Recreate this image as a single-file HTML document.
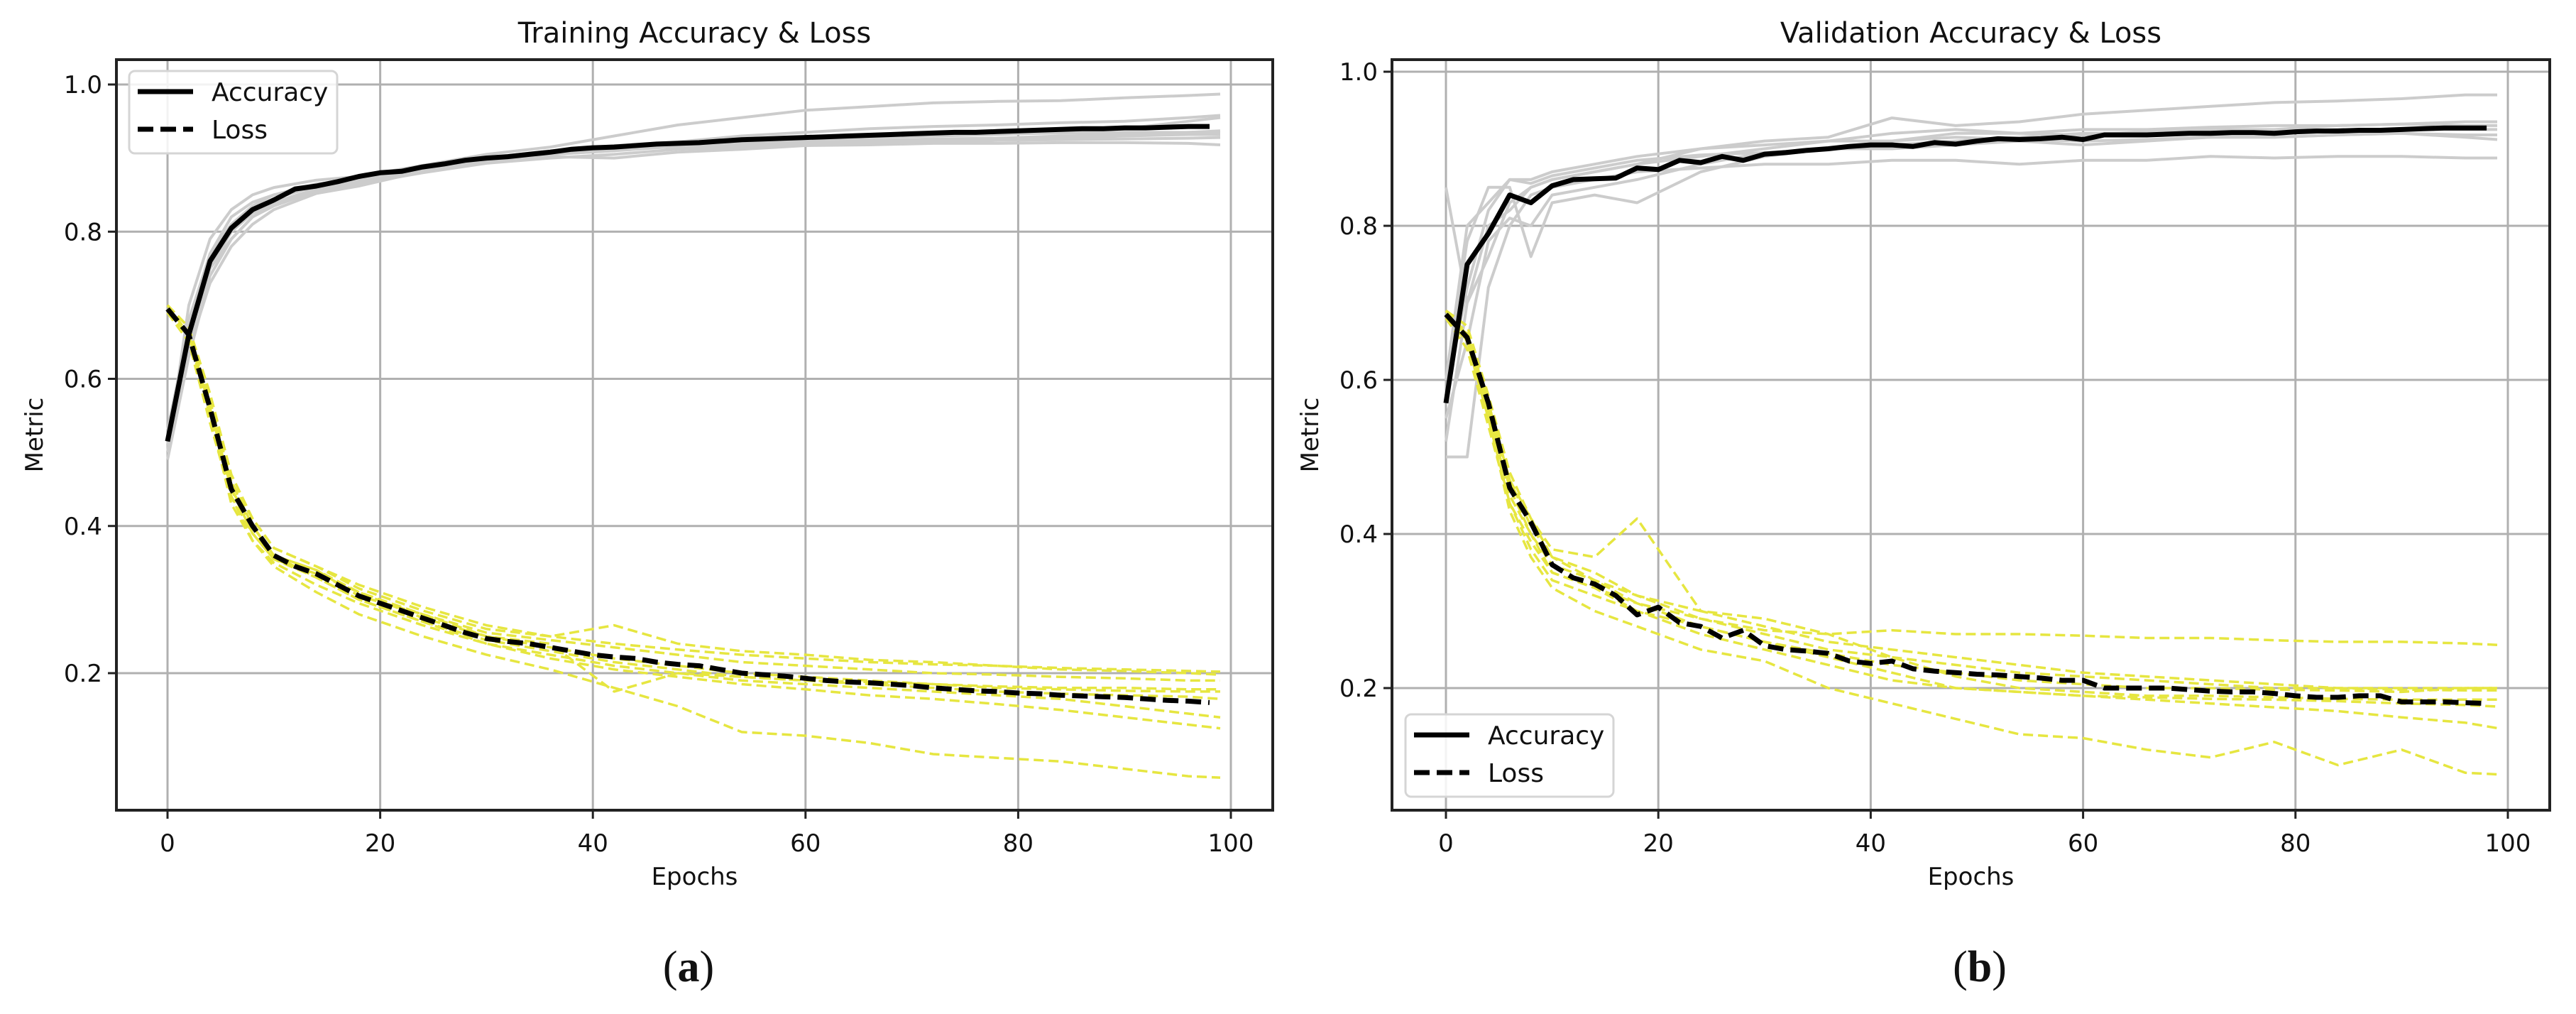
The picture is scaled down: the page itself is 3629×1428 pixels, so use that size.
<!DOCTYPE html>
<html><head><meta charset="utf-8">
<style>
html,body{margin:0;padding:0;background:#fff;}
svg{display:block;}
text{font-family:"DejaVu Sans","Liberation Sans",sans-serif;fill:#111;}
.cap{font-family:"Liberation Serif",serif;}
</style></head>
<body>
<svg id="fig" width="3629" height="1428" viewBox="0 0 3629 1428" xmlns="http://www.w3.org/2000/svg">
<defs>
<clipPath id="clipA"><rect x="164" y="84" width="1629" height="1057"/></clipPath>
<clipPath id="clipB"><rect x="1961" y="84" width="1630" height="1057"/></clipPath>
</defs>
</svg>
<script>
// ---------- data ----------
const xTicks = [0, 20, 40, 60, 80, 100];
const yTicks = [0.2, 0.4, 0.6, 0.8, 1.0];
const meanEpochs = [0,2,4,6,8,10,12,14,16,18,20,22,24,26,28,30,32,34,36,38,40,42,44,46,48,50,52,54,56,58,60,62,64,66,68,70,72,74,76,78,80,82,84,86,88,90,92,94,96,98];
const runEpochs = [0,2,4,6,8,10,14,18,24,30,36,42,48,54,60,66,72,78,84,90,96,99];

const trainAccMean = [0.515,0.66,0.76,0.805,0.83,0.843,0.858,0.862,0.868,0.875,0.88,0.882,0.888,0.892,0.897,0.9,0.902,0.905,0.908,0.912,0.914,0.915,0.917,0.919,0.92,0.921,0.923,0.925,0.926,0.927,0.928,0.929,0.93,0.931,0.932,0.933,0.934,0.935,0.935,0.936,0.937,0.938,0.939,0.94,0.94,0.941,0.941,0.942,0.943,0.943];
const trainLossMean = [0.695,0.66,0.56,0.45,0.40,0.36,0.345,0.335,0.32,0.305,0.295,0.285,0.275,0.265,0.255,0.247,0.243,0.24,0.235,0.23,0.225,0.222,0.22,0.215,0.212,0.21,0.205,0.2,0.198,0.196,0.193,0.19,0.188,0.187,0.185,0.183,0.18,0.178,0.176,0.175,0.173,0.172,0.17,0.169,0.168,0.167,0.165,0.163,0.162,0.16];
const trainAccRuns = [
 [0.50,0.70,0.79,0.83,0.85,0.86,0.87,0.875,0.89,0.905,0.915,0.93,0.945,0.955,0.965,0.97,0.975,0.977,0.978,0.982,0.985,0.987],
 [0.52,0.68,0.77,0.81,0.835,0.85,0.865,0.87,0.885,0.895,0.905,0.91,0.918,0.922,0.925,0.928,0.93,0.932,0.935,0.94,0.95,0.955],
 [0.49,0.63,0.74,0.79,0.82,0.835,0.855,0.865,0.88,0.893,0.9,0.905,0.912,0.915,0.918,0.92,0.922,0.924,0.925,0.926,0.927,0.928],
 [0.51,0.65,0.75,0.80,0.825,0.84,0.858,0.87,0.89,0.9,0.91,0.913,0.915,0.918,0.92,0.922,0.923,0.925,0.927,0.93,0.932,0.932],
 [0.53,0.67,0.77,0.82,0.84,0.85,0.86,0.866,0.884,0.898,0.902,0.9,0.908,0.912,0.917,0.918,0.92,0.92,0.921,0.921,0.92,0.918],
 [0.50,0.64,0.73,0.78,0.81,0.83,0.852,0.862,0.882,0.895,0.905,0.916,0.922,0.93,0.935,0.94,0.943,0.945,0.948,0.95,0.955,0.958],
 [0.52,0.66,0.76,0.80,0.83,0.845,0.862,0.87,0.886,0.9,0.91,0.917,0.92,0.925,0.928,0.93,0.932,0.933,0.934,0.935,0.935,0.935],
 [0.51,0.67,0.75,0.79,0.82,0.838,0.856,0.868,0.887,0.897,0.905,0.91,0.916,0.92,0.922,0.924,0.926,0.927,0.93,0.932,0.935,0.937]
];
const trainLossRuns = [
 [0.69,0.66,0.55,0.43,0.38,0.345,0.31,0.28,0.25,0.225,0.205,0.18,0.155,0.12,0.115,0.105,0.09,0.085,0.08,0.07,0.06,0.058],
 [0.70,0.67,0.58,0.47,0.41,0.37,0.345,0.32,0.29,0.265,0.25,0.24,0.232,0.225,0.22,0.215,0.212,0.21,0.207,0.205,0.203,0.202],
 [0.69,0.65,0.54,0.44,0.39,0.355,0.33,0.30,0.27,0.24,0.22,0.205,0.195,0.185,0.178,0.17,0.165,0.158,0.15,0.14,0.13,0.125],
 [0.70,0.66,0.57,0.46,0.40,0.36,0.34,0.31,0.28,0.255,0.245,0.235,0.225,0.215,0.21,0.205,0.2,0.198,0.195,0.193,0.19,0.19],
 [0.69,0.66,0.55,0.44,0.38,0.35,0.32,0.295,0.265,0.24,0.225,0.21,0.2,0.19,0.185,0.18,0.175,0.17,0.165,0.155,0.145,0.14],
 [0.70,0.67,0.57,0.46,0.41,0.37,0.345,0.315,0.285,0.26,0.25,0.265,0.24,0.23,0.225,0.218,0.215,0.21,0.205,0.203,0.2,0.198],
 [0.69,0.65,0.55,0.45,0.40,0.36,0.33,0.3,0.27,0.245,0.23,0.215,0.205,0.195,0.19,0.185,0.18,0.175,0.172,0.17,0.168,0.165],
 [0.70,0.66,0.56,0.45,0.39,0.355,0.335,0.31,0.275,0.25,0.235,0.22,0.21,0.2,0.195,0.19,0.185,0.18,0.178,0.176,0.175,0.175],
 [0.69,0.66,0.56,0.45,0.40,0.36,0.34,0.305,0.28,0.25,0.24,0.175,0.2,0.195,0.19,0.188,0.185,0.182,0.18,0.18,0.178,0.178]
];

const valAccMean = [0.57,0.75,0.79,0.84,0.83,0.852,0.86,0.861,0.862,0.875,0.873,0.885,0.882,0.89,0.885,0.893,0.895,0.898,0.9,0.903,0.905,0.905,0.903,0.908,0.906,0.91,0.913,0.912,0.913,0.915,0.912,0.918,0.918,0.918,0.919,0.92,0.92,0.921,0.921,0.92,0.922,0.923,0.923,0.924,0.924,0.925,0.926,0.927,0.927,0.927];
const valLossMean = [0.685,0.655,0.57,0.46,0.415,0.36,0.343,0.335,0.32,0.295,0.305,0.285,0.28,0.265,0.275,0.255,0.25,0.248,0.245,0.235,0.232,0.235,0.225,0.222,0.22,0.218,0.217,0.215,0.213,0.21,0.21,0.2,0.2,0.2,0.2,0.198,0.196,0.195,0.195,0.193,0.19,0.188,0.188,0.19,0.19,0.182,0.182,0.182,0.181,0.18];
const valAccRuns = [
 [0.6,0.8,0.83,0.86,0.86,0.87,0.88,0.89,0.9,0.91,0.915,0.94,0.93,0.935,0.945,0.95,0.955,0.96,0.962,0.965,0.97,0.97],
 [0.5,0.5,0.72,0.8,0.84,0.85,0.86,0.87,0.875,0.88,0.88,0.885,0.885,0.88,0.885,0.885,0.89,0.888,0.89,0.89,0.888,0.888],
 [0.85,0.7,0.8,0.82,0.85,0.86,0.87,0.88,0.89,0.9,0.91,0.92,0.925,0.92,0.925,0.925,0.928,0.93,0.93,0.932,0.935,0.935],
 [0.55,0.65,0.78,0.81,0.8,0.84,0.85,0.86,0.88,0.895,0.9,0.9,0.905,0.91,0.905,0.91,0.915,0.915,0.918,0.92,0.918,0.918],
 [0.6,0.78,0.85,0.85,0.76,0.83,0.84,0.83,0.87,0.89,0.9,0.905,0.91,0.915,0.92,0.92,0.92,0.922,0.925,0.925,0.925,0.925],
 [0.52,0.7,0.76,0.83,0.85,0.86,0.87,0.88,0.9,0.905,0.91,0.91,0.915,0.912,0.91,0.912,0.915,0.915,0.918,0.92,0.915,0.912],
 [0.58,0.72,0.82,0.86,0.855,0.865,0.875,0.885,0.892,0.895,0.9,0.91,0.92,0.92,0.918,0.922,0.925,0.925,0.93,0.932,0.93,0.93]
];
const valLossRuns = [
 [0.68,0.65,0.55,0.43,0.37,0.33,0.3,0.28,0.25,0.235,0.2,0.18,0.16,0.14,0.135,0.12,0.11,0.13,0.1,0.12,0.09,0.088],
 [0.69,0.66,0.57,0.47,0.41,0.37,0.34,0.31,0.29,0.275,0.27,0.275,0.27,0.27,0.268,0.265,0.265,0.262,0.26,0.26,0.258,0.256],
 [0.68,0.64,0.54,0.44,0.38,0.34,0.32,0.3,0.27,0.25,0.23,0.21,0.2,0.195,0.19,0.185,0.18,0.175,0.17,0.162,0.155,0.148],
 [0.69,0.67,0.58,0.48,0.42,0.38,0.37,0.42,0.3,0.28,0.26,0.25,0.24,0.23,0.22,0.215,0.21,0.205,0.2,0.2,0.2,0.2],
 [0.68,0.65,0.56,0.45,0.4,0.36,0.34,0.32,0.29,0.27,0.25,0.24,0.23,0.22,0.215,0.21,0.205,0.2,0.2,0.198,0.197,0.197],
 [0.69,0.66,0.56,0.46,0.4,0.35,0.33,0.3,0.28,0.26,0.24,0.22,0.2,0.195,0.19,0.188,0.186,0.185,0.183,0.18,0.178,0.176],
 [0.68,0.66,0.57,0.47,0.42,0.37,0.35,0.32,0.3,0.29,0.27,0.24,0.215,0.2,0.195,0.19,0.19,0.188,0.186,0.185,0.185,0.185],
 [0.69,0.65,0.55,0.44,0.39,0.35,0.33,0.31,0.28,0.26,0.245,0.23,0.22,0.21,0.205,0.2,0.2,0.198,0.197,0.195,0.2,0.2]
];

// ---------- drawing ----------
const NS = "http://www.w3.org/2000/svg";
const svg = document.getElementById("fig");
function mk(tag, attrs, parent) {
  const e = document.createElementNS(NS, tag);
  for (const k in attrs) e.setAttribute(k, attrs[k]);
  (parent || svg).appendChild(e);
  return e;
}

function drawPanel(p) {
  const g = mk("g", {});
  
  
  const xs = v => p.x0 + v * (p.x100 - p.x0) / 100;
  const ys = v => p.y1 + (1 - v) * (p.y02 - p.y1) / 0.8;

  xTicks.forEach(t => {
    const l = mk("line", {x1: xs(t), x2: xs(t), y1: p.top, y2: p.bottom, stroke: "#b0b0b0", "stroke-width": 3}, g);
    
    
  });
  yTicks.forEach(t => {
    const l = mk("line", {x1: p.left, x2: p.right, y1: ys(t), y2: ys(t), stroke: "#b0b0b0", "stroke-width": 3}, g);
    
    
  });

  const lines = mk("g", {"clip-path": "url(#" + p.clip + ")", fill: "none", "stroke-linejoin": "round"}, g);
  
  
  const pathOf = (xsArr, vals) => vals.map((v, i) => (i ? "L" : "M") + xs(xsArr[i]).toFixed(1) + "," + ys(v).toFixed(1)).join("");

  p.accRuns.forEach(r => {
    const e = mk("path", {d: pathOf(runEpochs, r), stroke: "#cccccc", "stroke-width": 4}, lines);
    
    
  });
  p.lossRuns.forEach(r => {
    const e = mk("path", {d: pathOf(runEpochs, r), stroke: "#e6e640", "stroke-width": 3.5, "stroke-dasharray": "14,7"}, lines);
    
    
  });
  const a = mk("path", {d: pathOf(meanEpochs, p.accMean), stroke: "#000", "stroke-width": 7}, lines);
  
  
  const lo = mk("path", {d: pathOf(meanEpochs, p.lossMean), stroke: "#000", "stroke-width": 7, "stroke-dasharray": "22,10"}, lines);
  
  

  const fr = mk("rect", {x: p.left, y: p.top, width: p.right - p.left, height: p.bottom - p.top, fill: "none", stroke: "#222", "stroke-width": 4}, g);
  
  

  xTicks.forEach(t => {
    mk("line", {x1: xs(t), x2: xs(t), y1: p.bottom, y2: p.bottom + 12, stroke: "#222", "stroke-width": 3}, g);
    const tx = mk("text", {x: xs(t), y: 1199, "font-size": 34, "text-anchor": "middle"}, g);
    tx.textContent = t;
    
    
  });
  yTicks.forEach(t => {
    mk("line", {x1: p.left - 12, x2: p.left, y1: ys(t), y2: ys(t), stroke: "#222", "stroke-width": 3}, g);
    const tx = mk("text", {x: p.left - 20, y: ys(t) + 12, "font-size": 34, "text-anchor": "end"}, g);
    tx.textContent = t.toFixed(1);
    
    
  });

  const title = mk("text", {x: (p.left + p.right) / 2, y: 60, "font-size": 40, "text-anchor": "middle"}, g);
  title.textContent = p.title;
  
  
  const xl = mk("text", {x: (p.left + p.right) / 2, y: 1246, "font-size": 34, "text-anchor": "middle"}, g);
  xl.textContent = "Epochs";
  
  
  const yl = mk("text", {x: 0, y: 0, "font-size": 34, "text-anchor": "middle", transform: "translate(" + (p.left - 104) + "," + ((p.top + p.bottom) / 2) + ") rotate(-90)"}, g);
  yl.textContent = "Metric";
  
  

  const lg = mk("g", {}, g);
  
  
  mk("rect", {x: p.lgX, y: p.lgY, width: 293, height: 116, rx: 8, fill: "#fff", "fill-opacity": 0.85, stroke: "#d5d5d5", "stroke-width": 3}, lg);
  const e1 = mk("line", {x1: p.lgX + 12, x2: p.lgX + 90, y1: p.lgY + 29, y2: p.lgY + 29, stroke: "#000", "stroke-width": 7}, lg);
  
  
  const e2 = mk("line", {x1: p.lgX + 12, x2: p.lgX + 90, y1: p.lgY + 82, y2: p.lgY + 82, stroke: "#000", "stroke-width": 7, "stroke-dasharray": "22,10"}, lg);
  
  
  const t1 = mk("text", {x: p.lgX + 116, y: p.lgY + 42, "font-size": 36}, lg);
  t1.textContent = "Accuracy";
  
  
  const t2 = mk("text", {x: p.lgX + 116, y: p.lgY + 95, "font-size": 36}, lg);
  t2.textContent = "Loss";
  
  

  const cap = mk("text", {x: p.capX, y: 1382, "font-size": 62, "text-anchor": "middle", class: "cap"}, g);
  
  
  const s1 = mk("tspan", {}, cap); s1.textContent = "(";
  const s2 = mk("tspan", {"font-weight": "bold"}, cap); s2.textContent = p.cap;
  const s3 = mk("tspan", {}, cap); s3.textContent = ")";
}

drawPanel({name: "training-panel", title: "Training Accuracy & Loss", cap: "a", capX: 970, clip: "clipA",
  left: 164, right: 1793, top: 84, bottom: 1141, x0: 236, x100: 1734, y1: 119, y02: 948,
  lgX: 182, lgY: 100, accMean: trainAccMean, lossMean: trainLossMean, accRuns: trainAccRuns, lossRuns: trainLossRuns});
drawPanel({name: "validation-panel", title: "Validation Accuracy & Loss", cap: "b", capX: 2789, clip: "clipB",
  left: 1961, right: 3592, top: 84, bottom: 1141, x0: 2037, x100: 3533, y1: 101, y02: 969,
  lgX: 1980, lgY: 1006, accMean: valAccMean, lossMean: valLossMean, accRuns: valAccRuns, lossRuns: valLossRuns});
</script>
</body></html>
